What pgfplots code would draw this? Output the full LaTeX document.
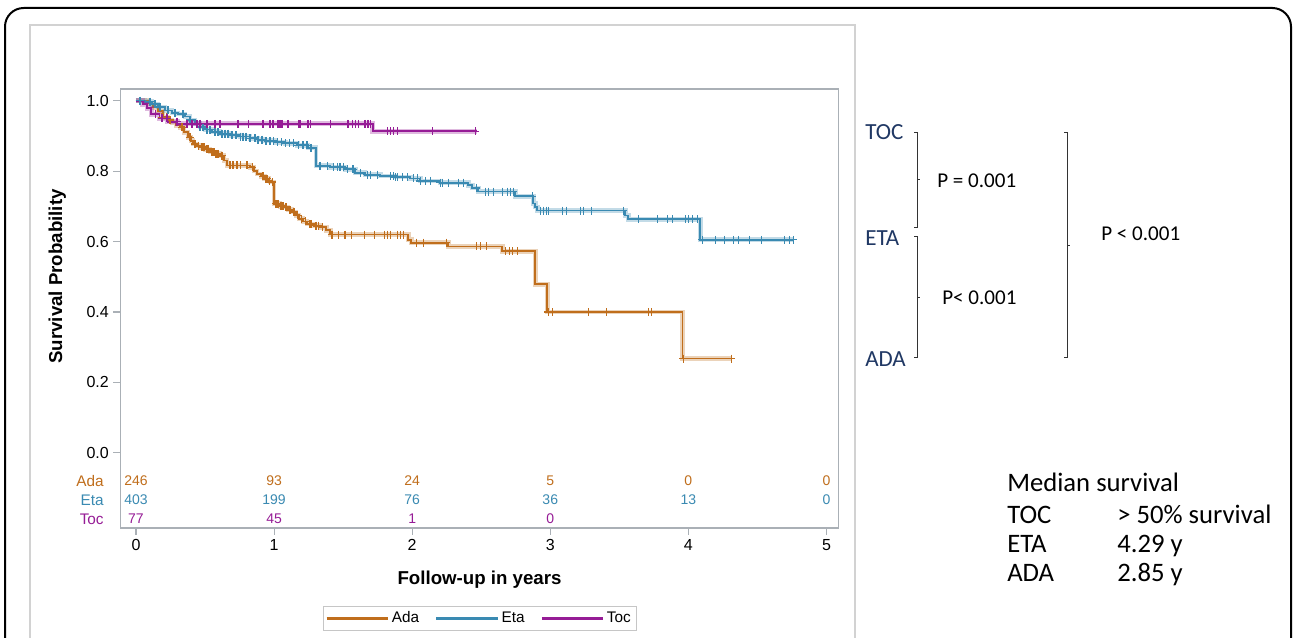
\documentclass[border=0pt]{standalone}
\usepackage{fontspec}
\setmainfont{Liberation Sans}
\newfontfamily\calibri{Carlito}
\usepackage{pgfplots}
\pgfplotsset{compat=1.18}
\usepackage{pgfplotstable}

\definecolor{ada}{RGB}{192,110,28}
\definecolor{eta}{RGB}{58,138,178}
\definecolor{toc}{RGB}{150,28,150}
\definecolor{lab}{RGB}{32,56,100}
\definecolor{frm}{RGB}{170,176,182}

\pgfplotstableread{
t s
0 1.000
0.087 0.992
0.123 0.981
0.159 0.970
0.196 0.953
0.232 0.945
0.261 0.939
0.290 0.930
0.319 0.924
0.348 0.910
0.377 0.896
0.399 0.886
0.413 0.877
0.442 0.872
0.464 0.868
0.500 0.862
0.536 0.854
0.572 0.849
0.609 0.844
0.638 0.830
0.659 0.816
0.826 0.811
0.855 0.800
0.877 0.792
0.906 0.785
0.928 0.778
0.957 0.772
0.971 0.769
1.000 0.707
1.043 0.700
1.072 0.698
1.101 0.690
1.130 0.684
1.159 0.675
1.181 0.665
1.210 0.657
1.239 0.650
1.290 0.645
1.333 0.641
1.377 0.632
1.406 0.620
1.971 0.605
1.993 0.597
2.261 0.586
2.652 0.572
2.891 0.479
2.978 0.400
3.957 0.268
4.312 0.268
}\adastep

\pgfplotstableread{
t s
0.188 0.953
0.225 0.953
0.246 0.945
0.333 0.924
0.391 0.896
0.428 0.877
0.450 0.872
0.478 0.868
0.493 0.868
0.514 0.862
0.522 0.862
0.551 0.854
0.565 0.854
0.580 0.849
0.594 0.849
0.623 0.844
0.681 0.816
0.703 0.816
0.732 0.816
0.754 0.816
0.804 0.816
0.841 0.811
0.920 0.785
0.942 0.778
0.949 0.778
0.964 0.772
0.986 0.769
1.014 0.707
1.029 0.707
1.050 0.700
1.065 0.700
1.087 0.698
1.116 0.690
1.145 0.684
1.167 0.675
1.196 0.665
1.225 0.657
1.254 0.650
1.268 0.650
1.304 0.645
1.319 0.645
1.348 0.641
1.420 0.620
1.464 0.620
1.514 0.620
1.558 0.620
1.652 0.620
1.725 0.620
1.797 0.620
1.819 0.620
1.841 0.620
1.891 0.620
1.913 0.620
1.935 0.620
2.029 0.597
2.080 0.597
2.246 0.597
2.464 0.586
2.493 0.586
2.536 0.586
2.674 0.572
2.703 0.572
2.725 0.572
2.761 0.572
2.986 0.400
3.014 0.400
3.275 0.400
3.406 0.400
3.710 0.400
3.732 0.400
3.964 0.268
4.312 0.268
}\adacens

\pgfplotstableread{
t s
0 1.000
0.065 0.997
0.116 0.990
0.159 0.982
0.210 0.972
0.261 0.965
0.304 0.962
0.355 0.955
0.391 0.945
0.428 0.935
0.464 0.925
0.500 0.918
0.551 0.912
0.609 0.906
0.681 0.902
0.754 0.898
0.826 0.893
0.884 0.889
0.935 0.886
1.007 0.882
1.080 0.879
1.167 0.873
1.246 0.866
1.304 0.815
1.406 0.811
1.514 0.805
1.587 0.795
1.659 0.790
1.768 0.786
1.877 0.783
1.986 0.779
2.058 0.772
2.203 0.767
2.406 0.760
2.435 0.752
2.478 0.742
2.746 0.729
2.877 0.708
2.891 0.698
2.906 0.688
3.543 0.674
3.565 0.663
4.087 0.605
4.761 0.605
}\etastep

\pgfplotstableread{
t s
0.029 1.000
0.101 0.997
0.138 0.990
0.174 0.982
0.232 0.972
0.283 0.965
0.341 0.962
0.391 0.945
0.464 0.925
0.486 0.925
0.514 0.918
0.536 0.918
0.572 0.912
0.594 0.912
0.623 0.906
0.645 0.906
0.667 0.906
0.696 0.902
0.725 0.902
0.754 0.898
0.775 0.898
0.797 0.898
0.826 0.893
0.862 0.893
0.884 0.889
0.913 0.889
0.942 0.886
0.971 0.886
0.993 0.886
1.022 0.882
1.051 0.882
1.080 0.879
1.109 0.879
1.138 0.879
1.174 0.873
1.210 0.873
1.239 0.873
1.268 0.866
1.333 0.815
1.384 0.815
1.428 0.811
1.457 0.811
1.478 0.811
1.500 0.811
1.529 0.805
1.572 0.805
1.623 0.795
1.674 0.790
1.696 0.790
1.746 0.790
1.841 0.786
1.862 0.786
1.877 0.783
1.891 0.783
1.928 0.783
1.964 0.783
2.007 0.779
2.036 0.779
2.058 0.772
2.094 0.772
2.130 0.772
2.203 0.767
2.217 0.767
2.261 0.767
2.333 0.767
2.370 0.767
2.464 0.752
2.529 0.742
2.551 0.742
2.587 0.742
2.652 0.742
2.688 0.742
2.710 0.742
2.732 0.742
2.870 0.729
2.928 0.688
2.949 0.688
2.971 0.688
2.986 0.688
3.087 0.688
3.116 0.688
3.217 0.688
3.239 0.688
3.297 0.688
3.529 0.688
3.638 0.663
3.775 0.663
3.848 0.663
3.884 0.663
3.978 0.663
4.000 0.663
4.029 0.663
4.065 0.663
4.101 0.605
4.196 0.605
4.261 0.605
4.326 0.605
4.362 0.605
4.442 0.605
4.529 0.605
4.696 0.605
4.732 0.605
4.761 0.605
}\etacens

\pgfplotstableread{
t s
0 1.000
0.05 0.990
0.08 0.978
0.11 0.961
0.17 0.950
0.23 0.940
0.30 0.934
1.715 0.913
2.47 0.913
}\tocstep

\pgfplotstableread{
t s
0.143 0.961
0.188 0.950
0.225 0.950
0.297 0.940
0.370 0.934
0.406 0.934
0.442 0.934
0.464 0.934
0.514 0.934
0.572 0.934
0.609 0.934
0.739 0.934
0.812 0.934
0.920 0.934
0.971 0.934
0.986 0.934
0.993 0.934
1.022 0.934
1.029 0.934
1.043 0.934
1.058 0.934
1.101 0.934
1.174 0.934
1.188 0.934
1.246 0.934
1.261 0.934
1.406 0.934
1.529 0.934
1.536 0.934
1.565 0.934
1.587 0.934
1.609 0.934
1.659 0.934
1.674 0.934
1.681 0.934
1.696 0.934
1.819 0.913
1.841 0.913
1.862 0.913
1.891 0.913
2.145 0.913
2.457 0.913
}\toccens

\begin{document}
\begin{tikzpicture}
\begin{scope}[x=0.75pt,y=0.75pt]
\path[use as bounding box] (0,0) rectangle (1296,638);
\fill[white] (0,0) rectangle (1296,638);
\begin{scope}
\clip (0,0) rectangle (1296,638);
\draw[black, line width=1.5pt, rounded corners=14] (5,-30) -- (5,630) -- (1291,630) -- (1291,-30);
\draw[gray!35, line width=1pt] (30,-5) -- (30,613) -- (855,613) -- (855,-5);
\end{scope}
% right-hand annotations
\begin{scope}[every node/.style={anchor=base west, inner sep=0pt}]
\node[text=lab, font=\calibri\fontsize{17.3}{20}\selectfont] at (865,498.5) {TOC};
\node[text=lab, font=\calibri\fontsize{17.3}{20}\selectfont] at (865,392.5) {ETA};
\node[text=lab, font=\calibri\fontsize{17.3}{20}\selectfont] at (865,271.5) {ADA};
\node[font=\calibri\fontsize{15.8}{18}\selectfont] at (937,450) {P = 0.001};
\node[font=\calibri\fontsize{15.8}{18}\selectfont] at (942,333.5) {P< 0.001};
\node[font=\calibri\fontsize{15.8}{18}\selectfont] at (1101,397.5) {P < 0.001};
\node[font=\calibri\fontsize{20}{24}\selectfont] at (1007,146.5) {Median survival};
\node[font=\calibri\fontsize{20}{24}\selectfont] at (1007,114.5) {TOC};
\node[font=\calibri\fontsize{20}{24}\selectfont] at (1117,114.5) {> 50\% survival};
\node[font=\calibri\fontsize{20}{24}\selectfont] at (1007,85.5) {ETA};
\node[font=\calibri\fontsize{20}{24}\selectfont] at (1117,85.5) {4.29 y};
\node[font=\calibri\fontsize{20}{24}\selectfont] at (1007,56.5) {ADA};
\node[font=\calibri\fontsize{20}{24}\selectfont] at (1117,56.5) {2.85 y};
\end{scope}
\begin{scope}[black!80, line width=0.75pt]
\draw (914,505) -- (917,505) -- (917,410) -- (914,410);
\draw (917,458) -- (920,458);
\draw (914,401) -- (917,401) -- (917,280) -- (914,280);
\draw (917,340) -- (920,340);
\draw (1064,505) -- (1067,505) -- (1067,280) -- (1064,280);
\draw (1067,392) -- (1070,392);
\end{scope}
\end{scope}

\begin{axis}[
  at={(90.375pt,82.5pt)}, anchor=south west,
  scale only axis, width=538.5pt, height=329.25pt,
  xmin=-0.112, xmax=5.087, ymin=-0.213, ymax=1.033,
  xtick={0,1,2,3,4,5}, ytick={0,0.2,0.4,0.6,0.8,1.0},
  yticklabel style={/pgf/number format/fixed, /pgf/number format/fixed zerofill, /pgf/number format/precision=1},
  /pgf/number format/assume math mode=true,
  tick pos=left, tick align=outside, major tick length=5.25pt,
  axis line style={frm, line width=0.8pt},
  every tick/.style={frm, line width=0.8pt},
  ticklabel style={font=\fontsize{12}{14}\selectfont, text=black},
  xlabel={Follow-up in years}, ylabel={Survival Probability},
  label style={font=\bfseries\fontsize{14}{16}\selectfont},
  xlabel style={at={(axis description cs:0.5,-0.118)}, anchor=center},
  ylabel style={at={(axis description cs:-0.088,0.573)}, anchor=center},
  clip=false,
  legend columns=3,
  legend style={at={(axis description cs:0.5,-0.206)}, anchor=center, draw=gray!45,
    font=\fontsize{11.5}{13}\selectfont, inner sep=2pt,
    /tikz/every even column/.append style={column sep=10pt}},
  legend image code/.code={\draw[#1, line width=1.8pt] (0pt,0pt) -- (46pt,0pt);},
]
\addplot[ada, const plot, line width=3.6pt, opacity=0.3, forget plot] table[x=t,y=s] {\adastep};
\addplot[ada, const plot, line width=1.4pt] table[x=t,y=s] {\adastep};
\addlegendentry{Ada}
\addplot[ada, only marks, mark=+, mark size=3pt, line width=0.9pt, forget plot] table[x=t,y=s] {\adacens};

\addplot[eta, const plot, line width=3.6pt, opacity=0.3, forget plot] table[x=t,y=s] {\etastep};
\addplot[eta, const plot, line width=1.4pt] table[x=t,y=s] {\etastep};
\addlegendentry{Eta}
\addplot[eta, only marks, mark=+, mark size=3pt, line width=0.9pt, forget plot] table[x=t,y=s] {\etacens};

\addplot[toc, const plot, line width=3.6pt, opacity=0.3, forget plot] table[x=t,y=s] {\tocstep};
\addplot[toc, const plot, line width=1.4pt] table[x=t,y=s] {\tocstep};
\addlegendentry{Toc}
\addplot[toc, only marks, mark=+, mark size=3pt, line width=0.9pt, forget plot] table[x=t,y=s] {\toccens};

% numbers at risk
\begin{scope}[every node/.style={font=\fontsize{10.5}{12}\selectfont}]
\node[text=ada] at (axis cs:0,-0.079) {246};
\node[text=ada] at (axis cs:1,-0.079) {93};
\node[text=ada] at (axis cs:2,-0.079) {24};
\node[text=ada] at (axis cs:3,-0.079) {5};
\node[text=ada] at (axis cs:4,-0.079) {0};
\node[text=ada] at (axis cs:5,-0.079) {0};
\node[text=eta] at (axis cs:0,-0.133) {403};
\node[text=eta] at (axis cs:1,-0.133) {199};
\node[text=eta] at (axis cs:2,-0.133) {76};
\node[text=eta] at (axis cs:3,-0.133) {36};
\node[text=eta] at (axis cs:4,-0.133) {13};
\node[text=eta] at (axis cs:5,-0.133) {0};
\node[text=toc] at (axis cs:0,-0.187) {77};
\node[text=toc] at (axis cs:1,-0.187) {45};
\node[text=toc] at (axis cs:2,-0.187) {1};
\node[text=toc] at (axis cs:3,-0.187) {0};
\end{scope}
\begin{scope}[every node/.style={font=\fontsize{11.5}{13}\selectfont, anchor=east}]
\node[text=ada] at (axis cs:-0.2,-0.079) {Ada};
\node[text=eta] at (axis cs:-0.2,-0.133) {Eta};
\node[text=toc] at (axis cs:-0.2,-0.187) {Toc};
\end{scope}
\end{axis}
\end{tikzpicture}
\end{document}
